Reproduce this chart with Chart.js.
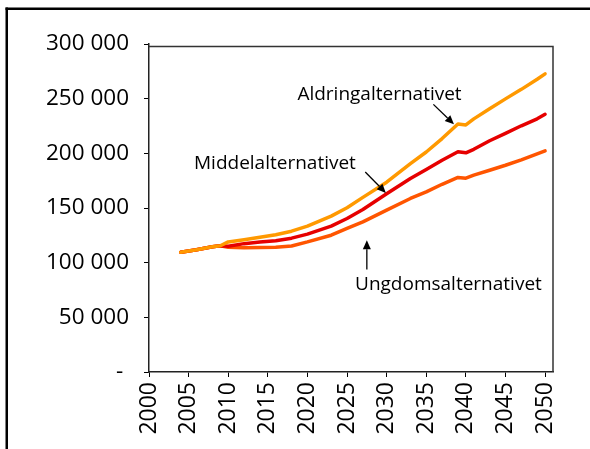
<!DOCTYPE html>
<html>
<head>
<meta charset="utf-8">
<script src="https://cdn.jsdelivr.net/npm/chart.js@4/dist/chart.umd.min.js"></script>
<style>
  html, body { margin: 0; padding: 0; background: #fff; }
  canvas { display: block; }
</style>
</head>
<body>
<canvas id="c" width="590" height="449"></canvas>
<script>
// ---- data ----
const years = [2004, 2006, 2008, 2009, 2010, 2012, 2014, 2016, 2018, 2020, 2023, 2025, 2027, 2030, 2033, 2035, 2037, 2039, 2040, 2041, 2043, 2045, 2047, 2049, 2050];
const aldring = [109600, 111900, 114600, 115500, 119000, 121000, 123300, 125600, 128800, 133400, 142600, 150200, 159700, 173600, 190600, 201200, 213500, 226800, 226000, 231500, 240700, 249800, 258500, 267700, 272700];
const middel  = [109600, 111900, 114600, 115500, 115000, 117400, 118800, 120100, 122400, 126100, 133400, 140400, 148600, 163000, 176900, 185200, 193700, 201500, 200500, 203700, 211500, 218300, 225200, 231600, 235700];
const ungdom  = [109600, 111900, 114600, 115500, 114000, 113700, 113900, 114200, 115300, 119000, 125100, 131300, 137300, 148000, 158700, 164700, 171700, 178000, 177300, 180000, 184500, 189100, 194100, 199600, 202300];
const seriesNames = ['Aldringalternativet', 'Middelalternativet', 'Ungdomsalternativet'];

const xTickValues = [2000, 2005, 2010, 2015, 2020, 2025, 2030, 2035, 2040, 2045, 2050];
const xTickLabels = ['2000', '2005', '2010', '2015', '2020', '2025', '2030', '2035', '2040', '2045', '2050'];
const yTickValues = [0, 50000, 100000, 150000, 200000, 250000, 300000];
const yTickLabels = ['- ', '50 000', '100 000', '150 000', '200 000', '250 000', '300 000'];

// annotation labels (data coordinates)
const annoTextX = [2029.1, 2015.9, 2037.8];
const annoTextY = [248500, 186100, 74900];
const arrowFromX = [2035.9, 2027.3, 2027.5];
const arrowFromY = [244800, 183000, 93800];
const arrowToX   = [2038.5, 2029.9, 2027.5];
const arrowToY   = [226500, 163800, 120600];

const FONT = '"Open Sans", "DejaVu Sans", sans-serif';

function pts(vals) { return years.map((y, i) => ({ x: y, y: vals[i] })); }

const framePlugin = {
  id: 'frame',
  beforeDraw(chart) {
    const ctx = chart.ctx;
    ctx.save();
    ctx.fillStyle = '#fff';
    ctx.fillRect(0, 0, chart.width, chart.height);
    ctx.fillStyle = '#000';
    ctx.fillRect(5.5, 7.5, 2.5, chart.height);
    ctx.fillRect(5.5, 7.5, chart.width, 2.5);
    ctx.restore();
  },
  afterDraw(chart) {
    const ctx = chart.ctx, a = chart.chartArea;
    ctx.save();
    ctx.strokeStyle = '#333';
    ctx.lineWidth = 1.5;
    ctx.beginPath();
    ctx.moveTo(a.left, a.top + 2.5);
    ctx.lineTo(a.right, a.top + 2.5);
    ctx.lineTo(a.right, a.bottom);
    ctx.stroke();

    const xs = chart.scales.x, ys = chart.scales.y;
    ctx.fillStyle = '#000';
    ctx.font = '19px ' + FONT;
    ctx.textAlign = 'center';
    ctx.textBaseline = 'alphabetic';
    for (let i = 0; i < seriesNames.length; i++) {
      ctx.fillText(seriesNames[i], xs.getPixelForValue(annoTextX[i]), ys.getPixelForValue(annoTextY[i]));
      const x1 = xs.getPixelForValue(arrowFromX[i]), y1 = ys.getPixelForValue(arrowFromY[i]);
      const x2 = xs.getPixelForValue(arrowToX[i]), y2 = ys.getPixelForValue(arrowToY[i]);
      const ang = Math.atan2(y2 - y1, x2 - x1);
      const L = 9, W = 4;
      const bx = x2 - L * Math.cos(ang), by = y2 - L * Math.sin(ang);
      ctx.strokeStyle = '#000';
      ctx.lineWidth = 1.3;
      ctx.beginPath();
      ctx.moveTo(x1, y1);
      ctx.lineTo(bx, by);
      ctx.stroke();
      ctx.beginPath();
      ctx.moveTo(x2, y2);
      ctx.lineTo(bx + W * Math.sin(ang), by - W * Math.cos(ang));
      ctx.lineTo(bx - W * Math.sin(ang), by + W * Math.cos(ang));
      ctx.closePath();
      ctx.fill();
    }
    ctx.restore();
  }
};

const lineDefaults = { borderWidth: 3.5, pointRadius: 0, tension: 0, borderJoinStyle: 'round', borderCapStyle: 'round', fill: false };

new Chart(document.getElementById('c'), {
  type: 'line',
  data: {
    datasets: [
      Object.assign({ label: seriesNames[0], data: pts(aldring), borderColor: '#FF9900' }, lineDefaults),
      Object.assign({ label: seriesNames[1], data: pts(middel), borderColor: '#E60000' }, lineDefaults),
      Object.assign({ label: seriesNames[2], data: pts(ungdom), borderColor: '#FF5500' }, lineDefaults)
    ]
  },
  options: {
    responsive: false,
    animation: false,
    layout: { padding: { top: 44, right: 37, left: 0, bottom: 0 } },
    plugins: { legend: { display: false }, tooltip: { enabled: false } },
    scales: {
      x: {
        type: 'linear',
        min: 2000,
        max: 2051,
        afterBuildTicks(scale) { scale.ticks = xTickValues.map(v => ({ value: v })); },
        afterFit(scale) { scale.height = 77; },
        grid: { drawOnChartArea: false, drawTicks: true, tickLength: 5, color: '#000', lineWidth: 1 },
        border: { display: true, color: '#222', width: 1.5 },
        ticks: {
          autoSkip: false,
          minRotation: 90,
          maxRotation: 90,
          padding: 5,
          color: '#000',
          font: { family: FONT, size: 23 },
          callback: (v, i) => xTickLabels[i]
        }
      },
      y: {
        min: 0,
        max: 300000,
        afterBuildTicks(scale) { scale.ticks = yTickValues.map(v => ({ value: v })); },
        afterFit(scale) { scale.width = 149; },
        grid: { drawOnChartArea: false, drawTicks: true, tickLength: 5, color: '#000', lineWidth: 1 },
        border: { display: true, color: '#222', width: 1.5 },
        ticks: {
          padding: 15,
          color: '#000',
          font: { family: FONT, size: 22.5 },
          callback: (v, i) => yTickLabels[i]
        }
      }
    }
  },
  plugins: [framePlugin]
});
</script>
</body>
</html>
